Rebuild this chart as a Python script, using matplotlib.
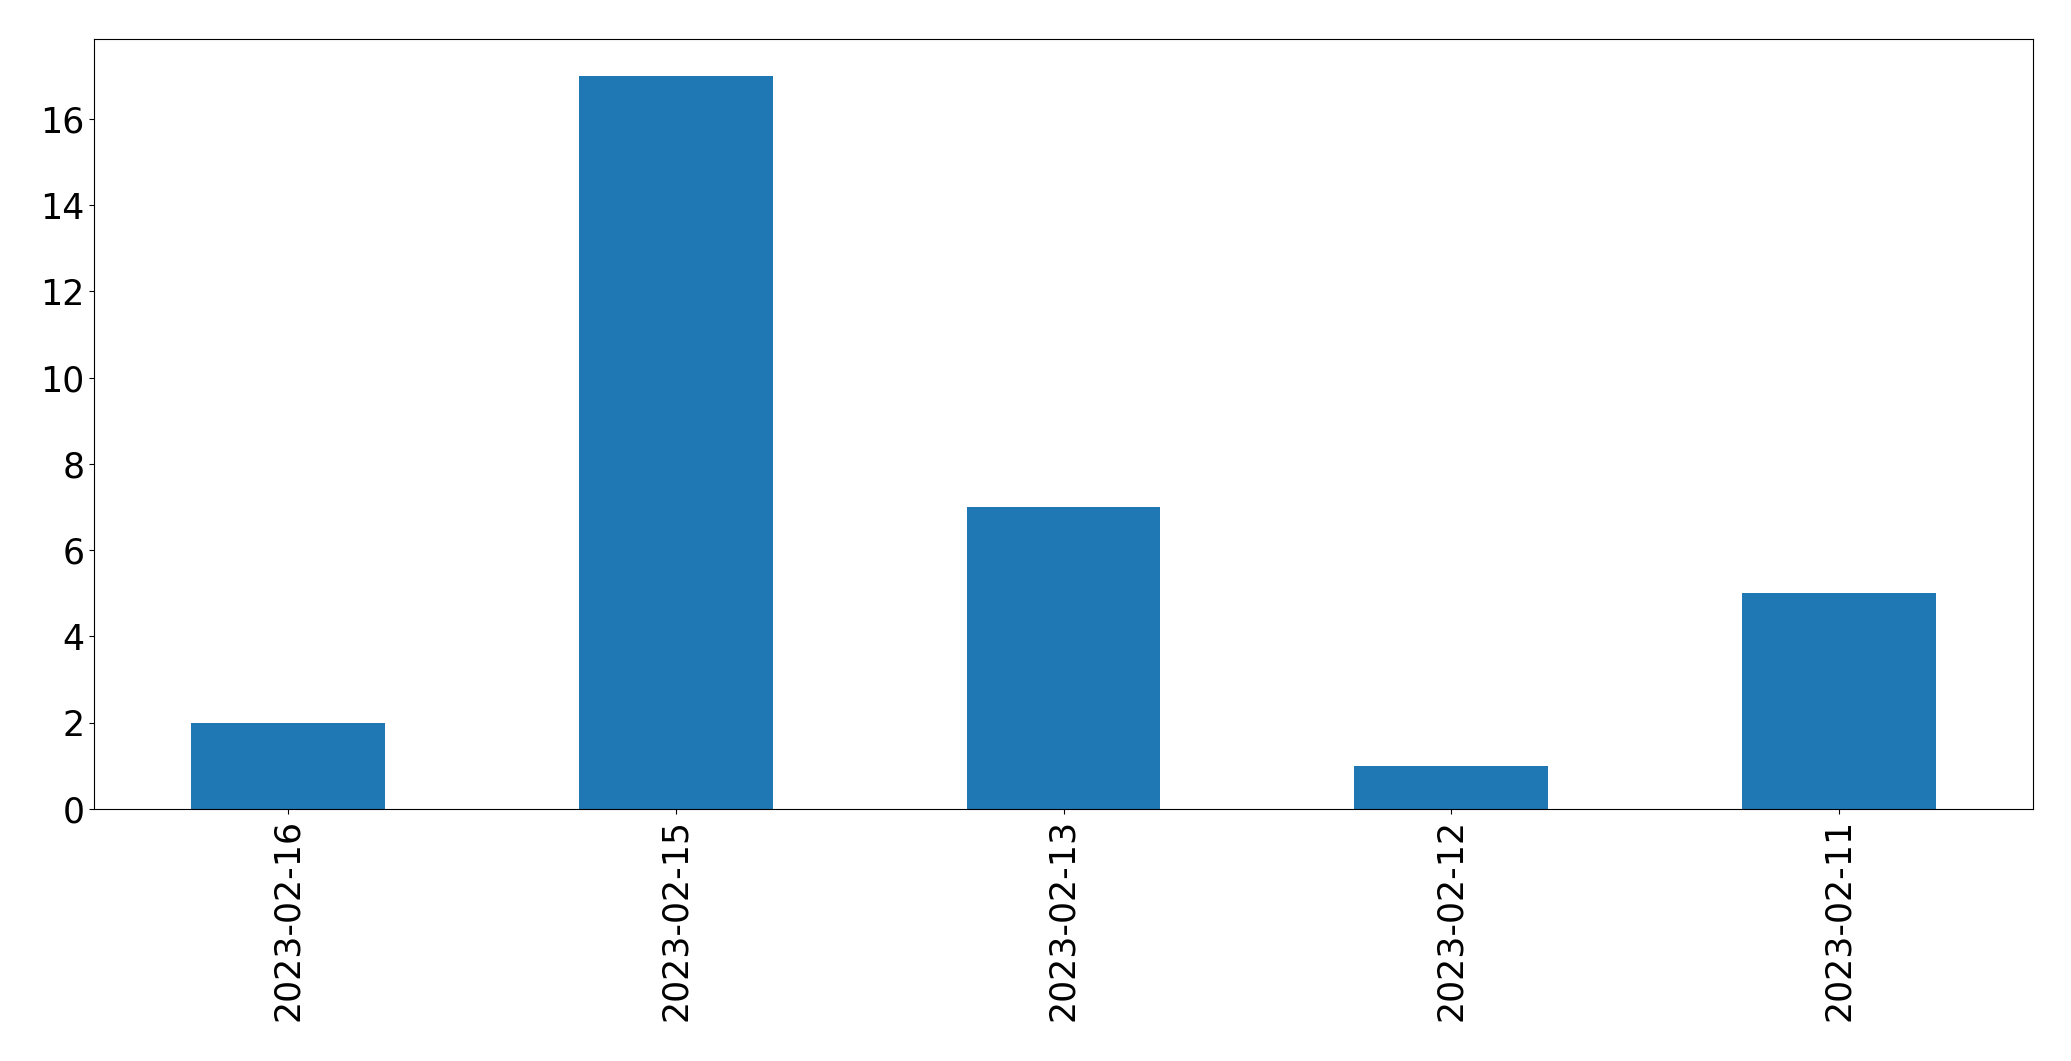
import matplotlib
matplotlib.use("Agg")
import matplotlib.pyplot as plt
import pandas as pd

dates = ["2023-02-16", "2023-02-15", "2023-02-13", "2023-02-12", "2023-02-11"]
counts = [2, 17, 7, 1, 5]

fig = plt.figure(figsize=(20.71, 10.61), dpi=100)
ax = fig.add_axes([94/2071, 1 - 809/1061, (2033-94)/2071, (809-39)/1061])
s = pd.Series(counts, index=dates)
s.plot(kind="bar", ax=ax, color="#1f77b4")
ax.tick_params(axis="both", labelsize=25)
fig.savefig("out.png", dpi=100)
